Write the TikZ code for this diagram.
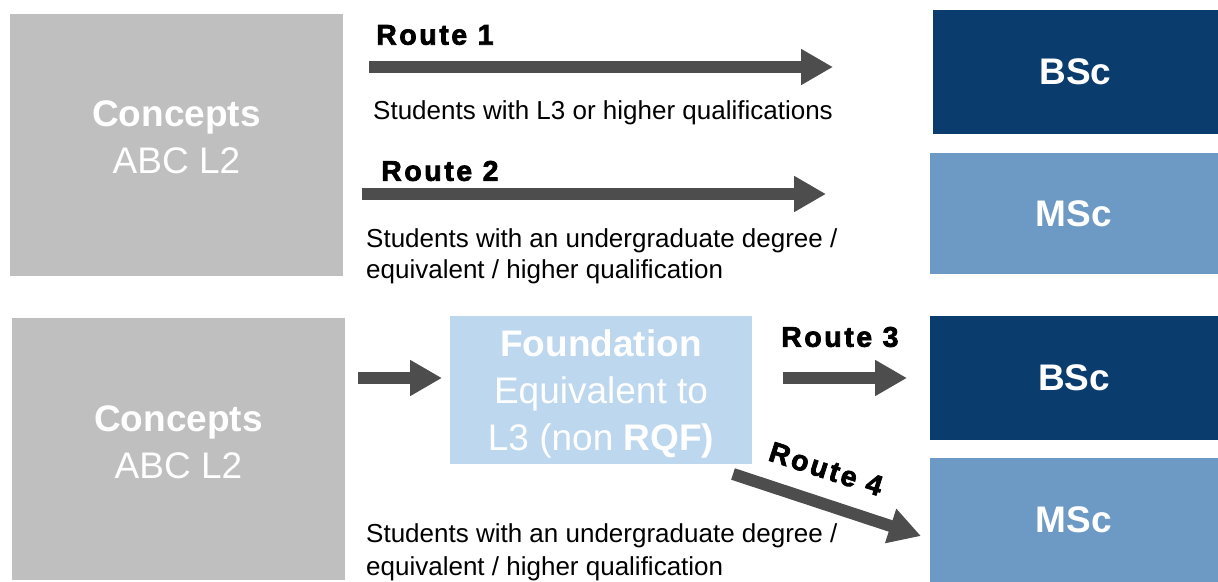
\documentclass[tikz,border=0pt]{standalone}
\usepackage{fontspec}
\setmainfont{Liberation Sans}
\newfontfamily\routefont[LetterSpace=9,FakeBold=2.5]{Liberation Sans}
\usetikzlibrary{arrows.meta}
\definecolor{conceptgray}{HTML}{BFBFBF}
\definecolor{bscblue}{HTML}{0B3C6E}
\definecolor{mscblue}{HTML}{6C9AC5}
\definecolor{foundblue}{HTML}{BDD7EE}
\definecolor{arrowgray}{HTML}{4D4D4D}
\begin{document}
\begin{tikzpicture}[x=1pt,y=-1pt,
    box/.style={inner sep=0pt, text=white, align=center,
      font=\fontsize{37}{47}\selectfont},
    concept/.style={box, fill=conceptgray, minimum width=333pt, minimum height=262pt},
    bsc/.style={box, fill=bscblue, minimum width=288pt, minimum height=124pt,
      font=\fontsize{37}{47}\selectfont\bfseries},
    msc/.style={bsc, fill=mscblue},
    found/.style={box, fill=foundblue, minimum width=302pt, minimum height=148pt},
    route/.style={inner sep=0pt, anchor=west,
      font=\routefont\bfseries\fontsize{28.5}{30}\selectfont},
    note/.style={inner sep=0pt, anchor=west, align=left,
      font=\fontsize{26}{31}\selectfont},
    bigarrow/.style={draw=arrowgray, line width=12pt,
      -{Triangle[length=32pt,width=34pt]}}]
  \useasboundingbox (0,0) rectangle (1218,581);
  % left column
  \node[concept] (ConceptA) at (176.5,145) {};
  \node[box] (ConceptAText) at ([yshift=8pt]ConceptA) {\textbf{Concepts}\\ABC L2};
  \node[concept] (ConceptB) at (178.5,449) {};
  \node[box] (ConceptBText) at ([yshift=7pt]ConceptB) {\textbf{Concepts}\\ABC L2};
  % right column
  \node[bsc, minimum width=285pt] (BscA) at (1075.5,72) {BSc};
  \node[msc, minimum height=121pt] (MscA) at (1074,213.5) {MSc};
  \node[bsc] (BscB) at (1074,378) {BSc};
  \node[msc] (MscB) at (1074,520) {MSc};
  \node[found] (Found) at (601,390) {};
  \node[box] (FoundText) at ([yshift=-4pt]Found) {\textbf{Foundation}\\Equivalent to\\L3 (non \textbf{RQF)}};
  % routes
  \node[route] (RouteA) at (376,35) {Route 1};
  \node[route] (RouteB) at (381,171) {Route 2};
  \node[route] (RouteC) at (781,337) {Route 3};
  \node[route, anchor=center, rotate=-18] (RouteD) at (826,469) {Route 4};
  \node[note] (NoteA) at (373,113) {Students with L3 or higher qualifications};
  \node[note] (NoteB) at (366,256) {Students with an undergraduate degree /\\equivalent / higher qualification};
  \node[note, font=\fontsize{26}{33}\selectfont] (NoteC) at (366,552) {Students with an undergraduate degree /\\equivalent / higher qualification};
  % arrows
  \coordinate (r1a) at (369,67);  \coordinate (r1b) at (833,67);
  \coordinate (r2a) at (362,194); \coordinate (r2b) at (826,194);
  \coordinate (ina) at (358,378); \coordinate (inb) at (442,378);
  \coordinate (r3a) at (783,378); \coordinate (r3b) at (907,378);
  \coordinate (r4a) at (733,474); \coordinate (r4b) at (921,536);
  \draw[bigarrow] (r1a) -- (r1b);
  \draw[bigarrow] (r2a) -- (r2b);
  \draw[bigarrow] (ina) -- (inb);
  \draw[bigarrow] (r3a) -- (r3b);
  \draw[bigarrow] (r4a) -- (r4b);
\end{tikzpicture}
\end{document}
